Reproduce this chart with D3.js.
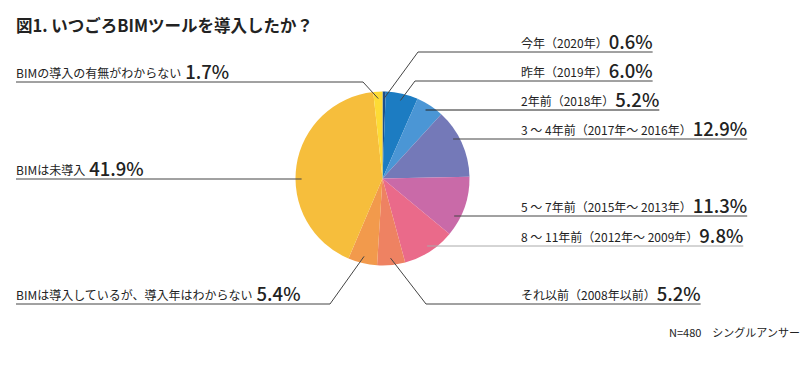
<!DOCTYPE html>
<html>
<head>
<meta charset="utf-8">
<script src="https://cdn.jsdelivr.net/npm/d3@7"></script>
<style>
  body { margin: 0; background: #fff; }
  svg text { font-family: "Noto Sans CJK JP", "Noto Sans", sans-serif; fill: #222; }
</style>
</head>
<body>
<div id="canvas"></div>
<script>
// ---- data ----
const categories = [
  '今年（2020年）', '昨年（2019年）', '2年前（2018年）', '3 ～ 4年前（2017年～ 2016年）',
  '5 ～ 7年前（2015年～ 2013年）', '8 ～ 11年前（2012年～ 2009年）', 'それ以前（2008年以前）',
  'BIMは導入しているが、導入年はわからない', 'BIMは未導入', 'BIMの導入の有無がわからない'
];
const values = [0.6, 6.0, 5.2, 12.9, 11.3, 9.8, 5.2, 5.4, 41.9, 1.7];
const colors = ['#1b4f8d', '#1c7cc2', '#4b96d5', '#7479b8', '#c96aa8',
                '#ea6a8a', '#ee8262', '#f29a4c', '#f6be3c', '#fddb35'];
const title = '図1. いつごろBIMツールを導入したか？';
const note = 'N=480　シングルアンサー';

// ---- label layout (side, underline y, elbow x for diagonal leaders, line colour) ----
const labelSide  = ['r', 'r', 'r', 'r', 'r', 'r', 'r', 'l', 'l', 'l'];
const labelY     = [52, 81, 110, 139, 216, 246, 304, 304, 179, 82];
const labelElbow = [418, 415, null, null, null, null, 426, 330, null, 363];
const lineColor  = ['#444', '#444', '#222', '#444', '#444', '#aaa', '#444', '#444', '#444', '#444'];

const width = 810, height = 375;
const cx = 382.5, cy = 178.5, radius = 87;
const rightX = 521, leftX = 16;

const svg = d3.select('#canvas').append('svg')
  .attr('width', width).attr('height', height);

svg.append('text')
  .attr('x', 16).attr('y', 32)
  .style('font-size', '16.5px').style('font-weight', 'bold')
  .text(title);

const pie = d3.pie().sort(null).value(d => d)(values);
const arc = d3.arc().innerRadius(0).outerRadius(radius);

const g = svg.append('g').attr('transform', `translate(${cx},${cy})`);
g.selectAll('path')
  .data(pie)
  .join('path')
  .attr('d', arc)
  .attr('fill', (d, i) => colors[i]);

// ---- labels ----
const lab = svg.append('g');

pie.forEach((d, i) => {
  const y = labelY[i];
  const side = labelSide[i];
  const grp = lab.append('g');

  const x0 = side === 'r' ? rightX : leftX;
  const name = grp.append('text')
    .attr('x', x0)
    .attr('y', y - 4)
    .style('font-size', '12px')
    .text(categories[i]);
  const nw = name.node().getComputedTextLength();
  const gap = side === 'r' ? 1 : 4;
  const pct = grp.append('text')
    .attr('x', x0 + nw + gap)
    .attr('y', y - 3)
    .style('font-size', '18.5px').style('font-weight', '500')
    .text(d3.format('.1f')(values[i]) + '%');
  const pw = pct.node().getComputedTextLength();
  const textEnd = x0 + nw + gap + pw;

  // anchor point inside the slice
  const mid = (d.startAngle + d.endAngle) / 2;
  let pts;
  if (labelElbow[i] != null) {
    const ax = cx + Math.sin(mid) * radius * 0.92;
    const ay = cy - Math.cos(mid) * radius * 0.92;
    if (side === 'r') pts = [[ax, ay], [labelElbow[i], y], [textEnd, y]];
    else pts = [[ax, ay], [labelElbow[i], y], [leftX, y]];
  } else {
    const rr = radius * 0.93;
    const dx = Math.sqrt(Math.max(0, rr * rr - (y - cy) * (y - cy)));
    if (side === 'r') pts = [[cx + dx, y], [textEnd, y]];
    else pts = [[cx - dx, y], [leftX, y]];
  }
  grp.append('path')
    .attr('d', d3.line()(pts))
    .attr('fill', 'none')
    .attr('stroke', lineColor[i])
    .attr('stroke-width', 1);
});

svg.append('text')
  .attr('x', 669).attr('y', 337)
  .style('font-size', '11px')
  .text(note);
</script>
</body>
</html>
